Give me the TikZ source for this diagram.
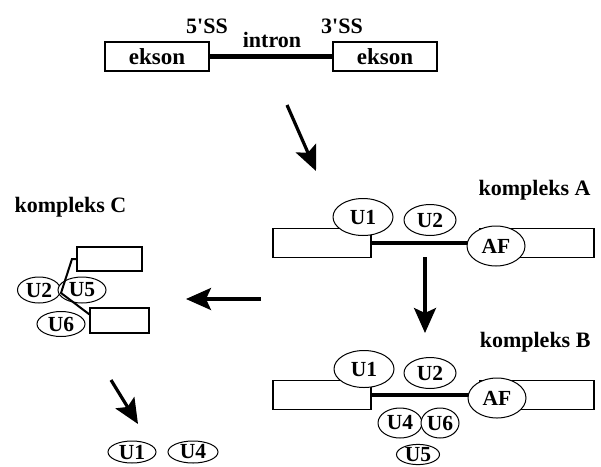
\documentclass[tikz,border=0pt]{standalone}
\usepackage{fontspec}
\setmainfont{Liberation Serif}[Ligatures=TeXOff]
\usetikzlibrary{arrows.meta,shapes.geometric}
\begin{document}
\begin{tikzpicture}[x=1pt,y=-1pt,font=\fontsize{22}{26}\selectfont\bfseries]
\tikzstyle{box}=[draw,line width=1.2pt,inner sep=0pt,minimum height=29pt]
\tikzstyle{sn}=[draw,ellipse,fill=white,line width=1pt,inner sep=0pt,font=\fontsize{21.5}{25}\selectfont\bfseries]
\tikzstyle{intron}=[line width=4.5pt]
\tikzstyle{go}=[line width=3.2pt,-{Stealth[length=25pt,width=22pt,inset=5pt]}]
\clip (0,0) rectangle (601,466);
% pre-mRNA
\node (e1) [box,minimum width=104pt,font=\fontsize{23}{27}\selectfont\bfseries] at (157,56.5) {ekson};
\node (e2) [box,minimum width=104pt,font=\fontsize{23}{27}\selectfont\bfseries] at (385,56.5) {ekson};
\draw[intron] (e1.east) -- (e2.west);
\node (s5) [anchor=base] at (207,33) {5'SS};
\node (s3) [anchor=base] at (342,33) {3'SS};
\node (in) [anchor=base] at (272,47) {intron};
% kompleks A
\node (ka) [anchor=base east] at (594,195) {kompleks A};
\node (la) [box,minimum width=98pt] at (322,243) {};
\node (ra) [box,minimum width=114pt] at (537,243) {};
\draw[intron,line width=3.5pt] (la.east) -- (ra.west);
\node (u1a) [sn,minimum width=60pt,minimum height=37pt] at (363,217) {U1};
\node (u2a) [sn,minimum width=52pt,minimum height=31pt] at (430,220) {U2};
\node (afa) [sn,minimum width=58pt,minimum height=40pt] at (496,246) {AF};
% kompleks B
\node (kb) [anchor=base east] at (594,347) {kompleks B};
\node (lb) [box,minimum width=98pt] at (322,395) {};
\node (rb) [box,minimum width=114pt] at (537,395) {};
\draw[intron,line width=3.5pt] (lb.east) -- (rb.west);
\node (u1b) [sn,minimum width=60pt,minimum height=37pt] at (364,369) {U1};
\node (u2b) [sn,minimum width=52pt,minimum height=31pt] at (430,373) {U2};
\node (afb) [sn,minimum width=58pt,minimum height=40pt] at (497,398) {AF};
\node (u4b) [sn,minimum width=44pt,minimum height=30pt] at (400,423) {U4};
\node (u6b) [sn,minimum width=38pt,minimum height=30pt] at (440,423) {U6};
\node (u5b) [sn,minimum width=43pt,minimum height=20pt] at (418,454.5) {U5};
% kompleks C
\node (kc) [anchor=base west] at (11,212) {kompleks C};
\node (c1) [box,minimum width=65pt,minimum height=24pt] at (109.5,259) {};
\node (c2) [box,minimum width=59pt,minimum height=25pt] at (119.5,320.5) {};
\node (u2c) [sn,minimum width=43pt,minimum height=26pt] at (39,290) {U2};
\node (u5c) [sn,minimum width=48pt,minimum height=26pt] at (82,290) {U5};
\node (u6c) [sn,minimum width=48pt,minimum height=25pt] at (61,324) {U6};
\draw[line width=2pt] (c1.west) -- (72,259) -- (61,293) -- ([yshift=-7pt]c2.north west);
% produk
\node (u1d) [sn,minimum width=48pt,minimum height=22pt] at (132,452) {U1};
\node (u4d) [sn,minimum width=50pt,minimum height=22pt] at (193,452) {U4};
% panah
\coordinate (p1) at (287,105); \coordinate (q1) at (316,171);
\coordinate (p2) at (425,257); \coordinate (q2) at (425,333);
\coordinate (p3) at (261,299); \coordinate (q3) at (186,299);
\coordinate (p4) at (111,380); \coordinate (q4) at (138,424);
\draw[go] (p1) -- (q1);
\draw[go] (p2) -- (q2);
\draw[go] (p3) -- (q3);
\draw[go] (p4) -- (q4);
\end{tikzpicture}
\end{document}
